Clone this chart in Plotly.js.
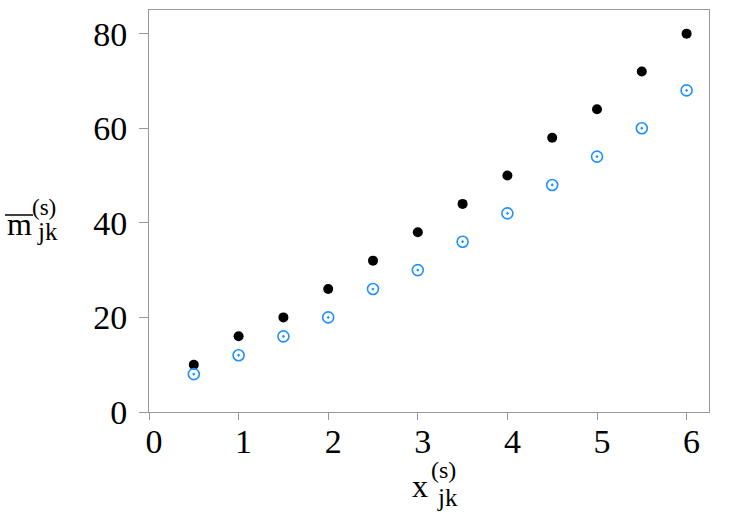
<!DOCTYPE html>
<html>
<head>
<meta charset="utf-8">
<script src="https://cdn.plot.ly/plotly-3.0.1.min.js"></script>
<style>html,body{margin:0;padding:0;background:#fff;}#chart{width:747px;height:523px;}</style>
</head>
<body>
<div id="chart"></div>
<script>
const xValues = [0.5, 1, 1.5, 2, 2.5, 3, 3.5, 4, 4.5, 5, 5.5, 6];
const seriesBlack = [10, 16, 20, 26, 32, 38, 44, 50, 58, 64, 72, 80];
const seriesBlue = [8, 12, 16, 20, 26, 30, 36, 42, 48, 54, 60, 68];
const xTicks = [0, 1, 2, 3, 4, 5, 6];
const yTicks = [0, 20, 40, 60, 80];

const L = 149, R = 38, T = 10, B = 111, W = 747, H = 523;
const PW = W - L - R, PH = H - T - B;
const px = v => (v - L) / PW;
const py = v => (H - B - v) / PH;
const serif = 'Liberation Serif';

const traces = [
  {x: xValues, y: seriesBlack, type: 'scatter', mode: 'markers',
   marker: {color: '#000000', size: 10, symbol: 'circle'}},
  {x: xValues, y: seriesBlue, type: 'scatter', mode: 'markers',
   marker: {color: '#1e90ff', size: 11, symbol: 'circle-open-dot', line: {width: 1.6, color: '#1e90ff'}}}
];

const axisCommon = {
  showgrid: false, zeroline: false, showline: true, mirror: true,
  linecolor: '#999999', linewidth: 1, ticks: 'outside',
  tickcolor: '#999999', tickwidth: 1,
  tickfont: {family: serif, size: 34, color: '#000000'}
};

function ann(text, x, y, size) {
  return {text: text, xref: 'paper', yref: 'paper', x: px(x), y: py(y),
    xanchor: 'center', yanchor: 'middle', showarrow: false,
    font: {family: serif, size: size, color: '#000000'}};
}

const layout = {
  width: W, height: H,
  font: {family: serif, color: '#000000'},
  margin: {l: L, r: R, t: T, b: B, pad: 0},
  paper_bgcolor: '#ffffff', plot_bgcolor: '#ffffff',
  showlegend: false,
  xaxis: Object.assign({}, axisCommon, {range: [0, 6.25], tickvals: xTicks, ticktext: xTicks.map(String),
    ticklen: 7, ticklabelstandoff: -8, ticklabelshift: 5}),
  yaxis: Object.assign({}, axisCommon, {range: [0, 85], tickvals: yTicks, ticktext: yTicks.map(String),
    ticklen: 9, ticklabelstandoff: 5}),
  annotations: [
    ann('x', 419.5, 486, 32),
    ann('(s)', 443.5, 470.5, 24),
    ann('jk', 447.5, 497.5, 25),
    ann('m', 19, 224, 32),
    ann('(s)', 44, 207.5, 23),
    ann('jk', 47.5, 231.5, 25)
  ],
  shapes: [
    {type: 'line', xref: 'paper', yref: 'paper', x0: px(5), x1: px(33), y0: py(215), y1: py(215),
     line: {color: '#000000', width: 1.5}}
  ]
};

Plotly.newPlot('chart', traces, layout, {displayModeBar: false, staticPlot: true});
</script>
</body>
</html>
